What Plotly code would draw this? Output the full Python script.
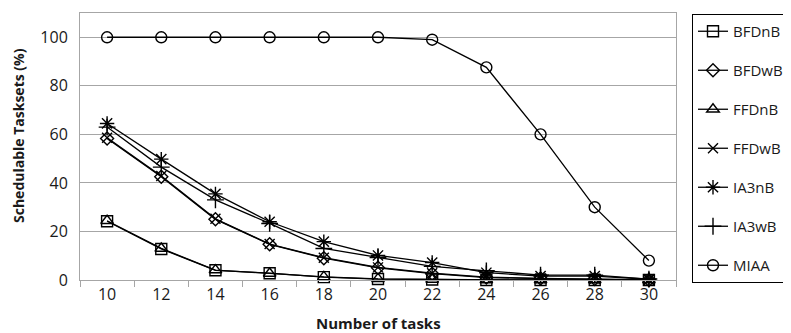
import plotly.graph_objects as go

tasks = [10, 12, 14, 16, 18, 20, 22, 24, 26, 28, 30]
bfdnb = [24.2, 12.8, 4.0, 2.8, 1.2, 0.4, 0.2, 0.0, 0.0, 0.0, 0.0]
bfdwb = [58.3, 42.5, 25.0, 14.7, 9.0, 5.0, 2.6, 1.0, 0.6, 0.4, 0.0]
ffdnb = [24.4, 13.0, 4.1, 2.7, 1.3, 0.5, 0.2, 0.0, 0.0, 0.0, 0.0]
ffdwb = [58.6, 42.8, 25.2, 14.8, 9.2, 5.2, 2.8, 1.2, 0.7, 0.5, 0.0]
ia3nb = [64.5, 49.8, 35.5, 24.0, 15.8, 10.1, 7.2, 3.0, 1.6, 1.6, 0.3]
ia3wb = [63.0, 46.5, 33.0, 23.3, 13.0, 9.2, 5.6, 3.8, 2.0, 2.0, 0.4]
miaa = [100, 100, 100, 100, 100, 100, 99.0, 87.6, 60.0, 30.0, 8.0]

series = [
    ("BFDnB", bfdnb, "square-open", 11),
    ("BFDwB", bfdwb, "diamond-open", 10),
    ("FFDnB", ffdnb, "triangle-up-open", 11),
    ("FFDwB", ffdwb, "x-thin-open", 10),
    ("IA3nB", ia3nb, "asterisk-open", 12),
    ("IA3wB", ia3wb, "cross-thin-open", 12),
    ("MIAA", miaa, "circle-open", 11),
]

x_ticks = tasks
y_ticks = [0, 20, 40, 60, 80, 100]
x_title = "Number of tasks"
y_title = "Schedulable Tasksets (%)"

FONT = "Open Sans"
TXT = "#1a1a1a"
fig = go.Figure()
for i, (name, vals, sym, sz) in enumerate(series):
    fig.add_trace(go.Scatter(
        x=tasks, y=vals, name=name, mode="lines+markers",
        line=dict(color="black", width=1.3),
        marker=dict(symbol=sym, size=sz, color="black",
                    line=dict(color="black", width=1.4)),
        cliponaxis=False, legendgroup=f"g{i}",
    ))

grid = "#a6a6a6"
# page body has an 8px margin, figure is offset by (8, 8)
L, R, T, B = 72, 668, 5, 272
W, H = 783, 325
PW, PH = R - L, B - T
fig.update_layout(
    width=W, height=H,
    margin=dict(l=L, r=W - R, t=T, b=H - B, autoexpand=False),
    paper_bgcolor="white", plot_bgcolor="white",
    font=dict(family=FONT, size=15, color=TXT),
    showlegend=True,
    legend=dict(
        x=(684 - L) / PW, xanchor="left", y=1 - 1 / PH, yanchor="top",
        bordercolor="black", borderwidth=1, bgcolor="white",
        font=dict(family=FONT, size=15, color=TXT),
        traceorder="grouped", tracegroupgap=16.5,
        itemwidth=30, maxheight=320,
    ),
    xaxis=dict(
        range=[9, 31], tickvals=x_ticks, ticktext=[str(t) for t in x_ticks],
        ticks="", showgrid=False, zeroline=False,
        showline=True, linecolor=grid, linewidth=1, mirror=True,
        tickfont=dict(family=FONT, size=16, color=TXT),
        minor=dict(tickvals=list(range(9, 32, 2)), ticks="outside",
                   ticklen=6, tickcolor=grid, showgrid=False),
    ),
    yaxis=dict(
        range=[0, 110], tickvals=y_ticks, ticks="",
        showgrid=True, gridcolor=grid, gridwidth=1, zeroline=False,
        showline=True, linecolor=grid, linewidth=1, mirror=True,
        tickfont=dict(family=FONT, size=16, color=TXT),
        ticklabelstandoff=8,
    ),
    annotations=[
        dict(text=f"<b>{x_title}</b>", xref="paper", yref="paper",
             x=0.5, y=(B - 315) / PH, xanchor="center", yanchor="middle",
             showarrow=False, font=dict(family=FONT, size=15, color=TXT)),
        dict(text=f"<b>{y_title}</b>", xref="paper", yref="paper",
             x=(10 - L) / PW, y=(B - 128) / PH, xanchor="center",
             yanchor="middle", textangle=-90, showarrow=False,
             font=dict(family=FONT, size=14, color=TXT)),
    ],
)

fig.write_html("out.html")
